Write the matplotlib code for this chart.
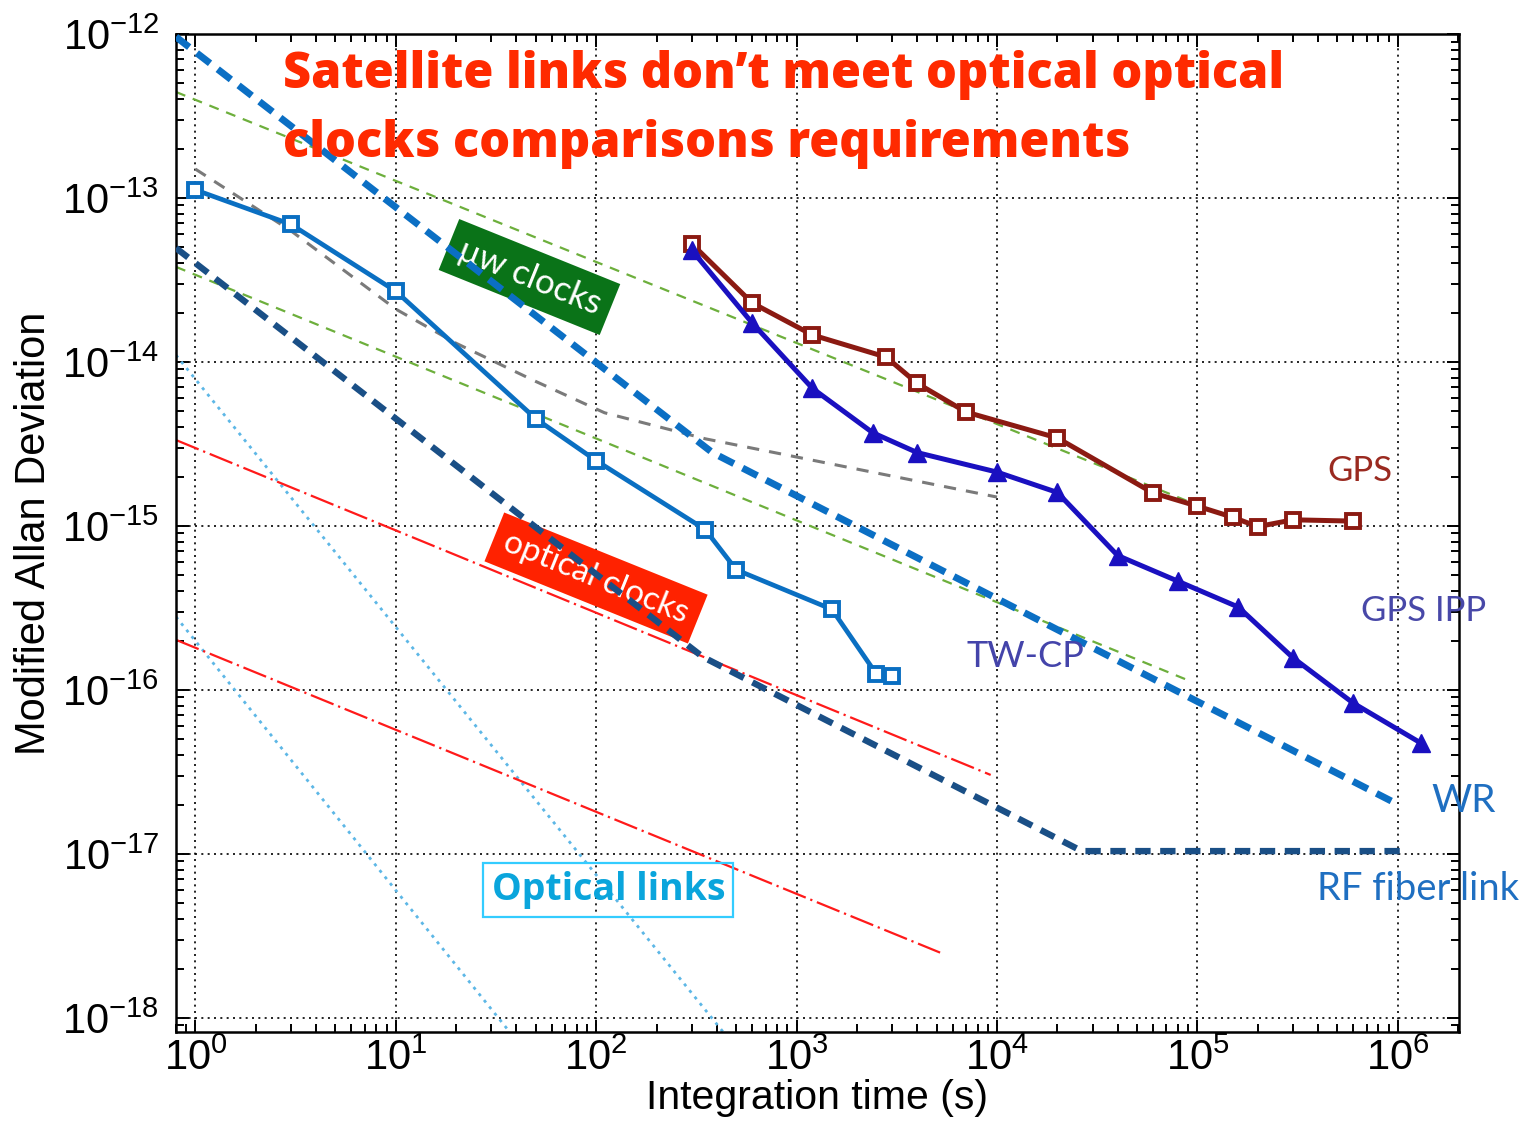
import math
import matplotlib
matplotlib.use('Agg')
import matplotlib.pyplot as plt
from matplotlib.ticker import FixedLocator, LogLocator, FuncFormatter, NullFormatter

# ---------------- data ----------------
tw_x = [1, 3, 10, 50, 100, 350, 500, 1500, 2500, 3000]
tw_y = [1.12e-13, 6.9e-14, 2.7e-14, 4.5e-15, 2.5e-15, 9.5e-16, 5.4e-16, 3.1e-16, 1.25e-16, 1.22e-16]

gps_x = [300, 600, 1200, 2800, 4000, 7000, 2e4, 6e4, 1e5, 1.5e5, 2e5, 3e5, 6e5]
gps_y = [5.25e-14, 2.29e-14, 1.46e-14, 1.07e-14, 7.4e-15, 4.95e-15, 3.44e-15,
         1.59e-15, 1.32e-15, 1.13e-15, 9.9e-16, 1.09e-15, 1.07e-15]

ipp_x = [300, 600, 1200, 2400, 4000, 1e4, 2e4, 4e4, 8e4, 1.6e5, 3e5, 6e5, 1.3e6]
ipp_y = [4.8e-14, 1.73e-14, 6.9e-15, 3.7e-15, 2.8e-15, 2.13e-15, 1.6e-15,
         6.6e-16, 4.6e-16, 3.2e-16, 1.57e-16, 8.3e-17, 4.75e-17]

wr_x = [0.8, 380, 9.5e5]
wr_y = [9.6e-13, 2.8e-15, 2.07e-17]

rf_x = [0.8, 340, 2.65e4, 1.06e6]
rf_y = [4.95e-14, 1.59e-16, 1.04e-17, 1.04e-17]

grey_x = [1, 3, 10, 20, 50, 110, 350, 1e4]
grey_y = [1.5e-13, 6.3e-14, 2.1e-14, 1.3e-14, 7.6e-15, 4.9e-15, 3.4e-15, 1.5e-15]

green1_x = [0.8, 1e5]
green1_y = [4.43e-13, 1.34e-15]
green2_x = [0.8, 8.9e4]
green2_y = [3.8e-14, 1.15e-16]

red1_x = [0.8, 9.3e3]
red1_y = [3.34e-15, 3.03e-17]
red2_x = [0.8, 5.2e3]
red2_y = [2.02e-16, 2.5e-18]

lb1_x = [0.8, 430]
lb1_y = [1.1e-14, 8.2e-19]
lb2_x = [0.8, 37]
lb2_y = [2.79e-16, 8.2e-19]

major_x = [1e0, 1e1, 1e2, 1e3, 1e4, 1e5, 1e6]
major_y = [1e-18, 1e-17, 1e-16, 1e-15, 1e-14, 1e-13, 1e-12]

# ---------------- style ----------------
plt.rcParams['font.family'] = ['Liberation Sans', 'DejaVu Sans']
plt.rcParams['mathtext.default'] = 'regular'

W, H = 1531, 1125
fig = plt.figure(figsize=(W / 100, H / 100), dpi=100)
ax = fig.add_axes([176 / W, 1 - 1032 / H, 1283 / W, 998 / H])
ax.set_xscale('log')
ax.set_yscale('log')
ax.set_xlim(0.8, 2.02e6)
ax.set_ylim(8.2e-19, 1.0e-12)

# reference/guide lines
ax.plot(lb1_x, lb1_y, color='#5DB7E6', lw=2.0, dashes=(1.1, 1.9), zorder=2)
ax.plot(lb2_x, lb2_y, color='#5DB7E6', lw=2.0, dashes=(1.1, 1.9), zorder=2)
ax.plot(red1_x, red1_y, color='#FF1A1A', lw=1.6, dashes=(11, 2.2, 1, 2.2), zorder=2)
ax.plot(red2_x, red2_y, color='#FF1A1A', lw=1.6, dashes=(11, 2.2, 1, 2.2), zorder=2)
ax.plot(green1_x, green1_y, color='#6DAF3C', lw=1.6, dashes=(4.5, 3.6), zorder=2)
ax.plot(green2_x, green2_y, color='#6DAF3C', lw=1.6, dashes=(4.5, 3.6), zorder=2)
ax.plot(grey_x, grey_y, color='#7A7A7A', lw=2.2, dashes=(4, 3.3), zorder=2)

# link performance lines
ax.plot(wr_x, wr_y, color='#0B6FC4', lw=5, dashes=(2.4, 1.4), zorder=4)
ax.plot(rf_x, rf_y, color='#1A4F86', lw=4.6, dashes=(2.4, 1.5), zorder=4)

ax.plot(tw_x, tw_y, color='#0A6FC2', lw=3.4, marker='s', ms=10, mew=2.8,
        mfc='white', mec='#0A6FC2', zorder=5)
ax.plot(gps_x, gps_y, color='#8B1A12', lw=3.6, marker='s', ms=10, mew=2.8,
        mfc='white', mec='#8B1A12', zorder=5)
ax.plot(ipp_x, ipp_y, color='#1A10C0', lw=3.6, marker='^', ms=13, mew=1,
        mfc='#1A10C0', mec='#1A10C0', zorder=5)

# ---------------- axes / ticks ----------------
ax.xaxis.set_major_locator(FixedLocator(major_x))
ax.yaxis.set_major_locator(FixedLocator(major_y))
ax.xaxis.set_minor_locator(LogLocator(base=10, subs=range(2, 10), numticks=30))
ax.yaxis.set_minor_locator(LogLocator(base=10, subs=range(2, 10), numticks=30))
ax.xaxis.set_minor_formatter(NullFormatter())
ax.yaxis.set_minor_formatter(NullFormatter())


def fmt(v, pos):
    e = int(round(math.log10(v)))
    return r'$\mathregular{10^{%d}}$' % e


ax.xaxis.set_major_formatter(FuncFormatter(fmt))
ax.yaxis.set_major_formatter(FuncFormatter(fmt))

ax.tick_params(which='both', direction='in', top=True, right=True, width=1.4, colors='black')
ax.tick_params(which='major', length=9, labelsize=30)
ax.tick_params(which='minor', length=5.5)
ax.tick_params(axis='x', which='major', pad=5)
ax.tick_params(axis='y', which='major', pad=12)
for s in ax.spines.values():
    s.set_linewidth(1.8)

ax.grid(True, which='major', color='black', lw=1.2, dashes=(1.2, 2.6))
ax.set_axisbelow(True)

ax.set_xlabel('Integration time (s)', fontsize=29.5, labelpad=0)
ax.set_ylabel('Modified Allan Deviation', fontsize=30, labelpad=6)

# ---------------- annotations ----------------
LATO = ['Lato', 'DejaVu Sans']
OPEN = ['Open Sans', 'DejaVu Sans']
red = '#FF2A00'
ax.text(0.0834, 0.9459, "Satellite links don\u2019t meet optical optical", transform=ax.transAxes,
        fontsize=35, fontweight='heavy', color=red, family=OPEN, ha='left', va='baseline', zorder=6)
ax.text(0.0834, 0.8768, "clocks comparisons requirements", transform=ax.transAxes,
        fontsize=35, fontweight='heavy', color=red, family=OPEN, ha='left', va='baseline', zorder=6)

ax.text(0.2755, 0.7565, "\u03bcw clocks", transform=ax.transAxes, rotation=-22,
        rotation_mode='anchor', ha='center', va='center', fontsize=25, color='white',
        family=LATO, zorder=3,
        bbox=dict(boxstyle='square,pad=0.33', fc='#0A7318', ec='none'))
ax.text(0.3274, 0.4549, "optical clocks", transform=ax.transAxes, rotation=-22,
        rotation_mode='anchor', ha='center', va='center', fontsize=24, color='white',
        family=LATO, zorder=3,
        bbox=dict(boxstyle='square,pad=0.34', fc='#FF2200', ec='none'))
ax.text(0.3371, 0.1423, "Optical links", transform=ax.transAxes, ha='center', va='center',
        fontsize=27, fontweight='bold', color='#0AA5DC', family=OPEN, zorder=6,
        bbox=dict(boxstyle='square,pad=0.22', fc='none', ec='#33CCFF', lw=1.6))

lab_kw = dict(transform=ax.transAxes, ha='center', va='baseline', family=LATO, zorder=6)
ax.text(0.9228, 0.5521, "GPS", color='#9A2A20', fontsize=25, **lab_kw)
ax.text(0.9727, 0.4118, "GPS IPP", color='#4848A8', fontsize=25, **lab_kw)
ax.text(0.6617, 0.3657, "TW-CP", color='#4444AA', fontsize=26, **lab_kw)
ax.text(1.0039, 0.2204, "WR", color='#1F6FC1', fontsize=28, clip_on=False, **lab_kw)
ax.text(0.968, 0.1323, "RF fiber link", color='#1F6FC1', fontsize=27.5, clip_on=False, **lab_kw)

fig.savefig('out.png', dpi=100)
